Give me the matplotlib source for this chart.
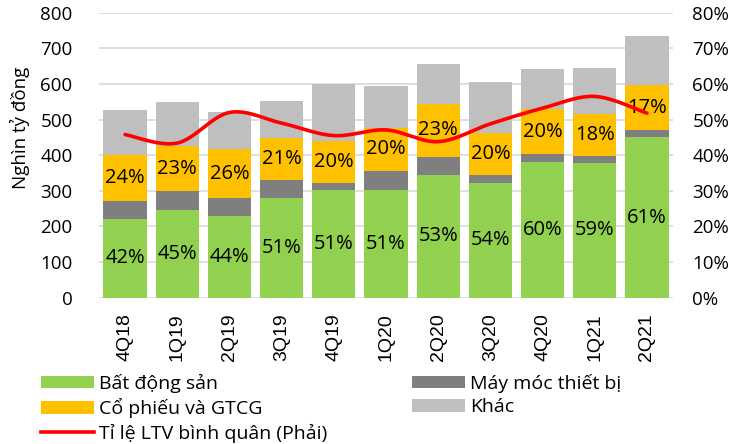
import numpy as np
import matplotlib
matplotlib.use("Agg")
import matplotlib.pyplot as plt
from matplotlib.patches import Patch
from matplotlib.lines import Line2D

categories = ["4Q18", "1Q19", "2Q19", "3Q19", "4Q19", "1Q20", "2Q20", "3Q20", "4Q20", "1Q21", "2Q21"]
bat_dong_san = [221, 246, 228, 279, 303, 302, 344, 323, 381, 378, 450]
may_moc = [51, 54, 52, 52, 20, 54, 51, 21, 21, 21, 20]
co_phieu = [128, 125, 136, 118, 118, 120, 150, 119, 128, 117, 126]
khac = [128, 125, 105, 102, 158, 119, 112, 143, 111, 130, 138]
ltv = [45.8, 43.4, 52.0, 49.0, 45.5, 47.1, 43.8, 48.8, 53.2, 56.5, 51.8]
label_bds = ["42%", "45%", "44%", "51%", "51%", "51%", "53%", "54%", "60%", "59%", "61%"]
label_cp = ["24%", "23%", "26%", "21%", "20%", "20%", "23%", "20%", "20%", "18%", "17%"]

C_GREEN = "#92D050"
C_DARK = "#7F7F7F"
C_ORANGE = "#FFC000"
C_LIGHT = "#BFBFBF"
C_RED = "#FF0000"

FONT = "Open Sans"
plt.rcParams["font.family"] = [FONT, "DejaVu Sans"]

W, H = 735, 444
fig = plt.figure(figsize=(W / 100, H / 100), dpi=100)
ax = fig.add_axes([99 / W, (H - 297.7) / H, (673 - 99) / W, (297.7 - 12.7) / H])

x = np.arange(len(categories))
bw = 0.83
b1 = np.array(bat_dong_san, float)
b2 = np.array(may_moc, float)
b3 = np.array(co_phieu, float)
b4 = np.array(khac, float)

ax.bar(x, b1, bw, color=C_GREEN, zorder=2)
ax.bar(x, b2, bw, bottom=b1, color=C_DARK, zorder=2)
ax.bar(x, b3, bw, bottom=b1 + b2, color=C_ORANGE, zorder=2)
ax.bar(x, b4, bw, bottom=b1 + b2 + b3, color=C_LIGHT, zorder=2)

for i in range(len(x)):
    ax.text(x[i], b1[i] / 2, label_bds[i], ha="center", va="center", fontsize=14.5, color="#000000", zorder=5)
    ax.text(x[i], b1[i] + b2[i] + b3[i] / 2, label_cp[i], ha="center", va="center", fontsize=14.5, color="#000000", zorder=5)

ax.set_xlim(-0.5, len(x) - 0.5)
ax.set_ylim(0, 800)
ax.set_yticks(np.arange(0, 801, 100))
ax.yaxis.grid(True, color="#D9D9D9", linewidth=1.2, zorder=0)
ax.set_axisbelow(True)
for s in ax.spines.values():
    s.set_visible(False)
ax.set_xticks(x)
ax.set_xticklabels(categories, rotation=90, fontsize=14, family=["Liberation Sans", "DejaVu Sans"])
ax.tick_params(axis="x", length=0, pad=11)
ax.tick_params(axis="y", length=0, pad=19, labelsize=13.5)

ax2 = ax.twinx()
ax2.set_ylim(0, 80)
ax2.set_yticks(np.arange(0, 81, 10))
ax2.set_yticklabels([f"{v}%" for v in range(0, 81, 10)])
ax2.tick_params(axis="y", length=0, pad=14, labelsize=13.5)
for s in ax2.spines.values():
    s.set_visible(False)

# smooth line (Bezier smoothing like Excel's smoothed line)
def smooth(xs, ys, n=30):
    xs = np.asarray(xs, float); ys = np.asarray(ys, float)
    px = np.concatenate([[xs[0]], xs, [xs[-1]]])
    py = np.concatenate([[ys[0]], ys, [ys[-1]]])
    ox, oy = [], []
    t = np.linspace(0, 1, n)
    for i in range(1, len(px) - 2):
        p0 = np.array([px[i - 1], py[i - 1]]); p1 = np.array([px[i], py[i]])
        p2 = np.array([px[i + 1], py[i + 1]]); p3 = np.array([px[i + 2], py[i + 2]])
        c1 = p1 + (p2 - p0) / 6
        c2 = p2 - (p3 - p1) / 6
        pts = ((1 - t) ** 3)[:, None] * p1 + (3 * (1 - t) ** 2 * t)[:, None] * c1 + \
              (3 * (1 - t) * t ** 2)[:, None] * c2 + (t ** 3)[:, None] * p2
        ox.extend(pts[:, 0]); oy.extend(pts[:, 1])
    return np.array(ox), np.array(oy)

sx, sy = smooth(x, ltv)
ax2.plot(sx, sy, color=C_RED, linewidth=2.6, solid_capstyle="round", zorder=6)

fig.text(20 / W, 1 - 128 / H, "Nghìn tỷ đồng", rotation=90, ha="center", va="center", fontsize=13.5)

handles = [
    Patch(facecolor=C_GREEN, label="Bất động sản"),
    Patch(facecolor=C_ORANGE, label="Cổ phiếu và GTCG"),
    Line2D([], [], color=C_RED, linewidth=2.6, label="Tỉ lệ LTV bình quân (Phải)"),
    Patch(facecolor=C_DARK, label="Máy móc thiết bị"),
    Patch(facecolor=C_LIGHT, label="Khác"),
]
fig.legend(handles=handles, ncol=2, loc="upper left", bbox_to_anchor=(41 / W, 1 - 374 / H),
           frameon=False, fontsize=14, handlelength=2.7, handleheight=0.6, handletextpad=0.3,
           columnspacing=4.35, labelspacing=0.27, borderpad=0, borderaxespad=0)

fig.savefig("out.png", dpi=100)
